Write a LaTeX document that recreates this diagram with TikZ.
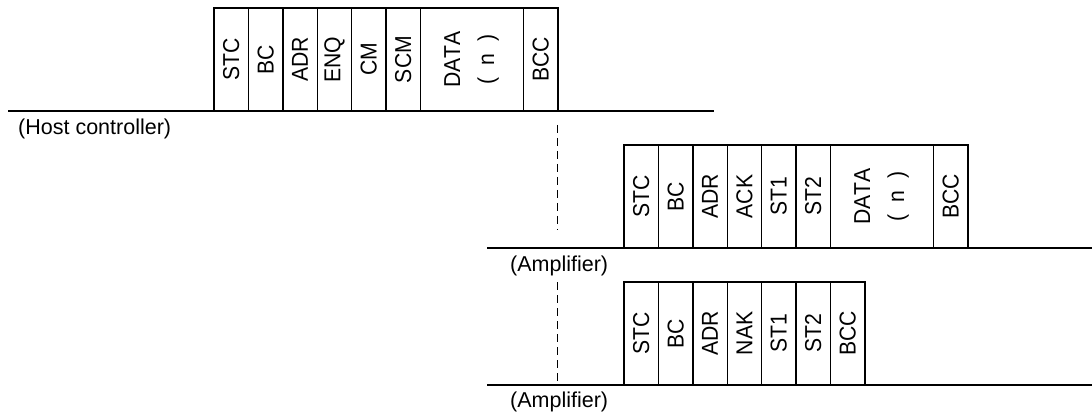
\documentclass[tikz,border=0pt]{standalone}
\usepackage{fontspec}
\setmainfont{Liberation Sans}
\newfontfamily\cellfamily[FakeStretch=0.92,Kerning=Off]{Liberation Sans}
\usetikzlibrary{positioning}
\newcommand{\labfont}{\fontsize{21.5pt}{25pt}\selectfont}
\newcommand{\cellfont}{\cellfamily\fontsize{23pt}{26pt}\selectfont}
\newcommand{\vtext}[1]{\rotatebox{90}{#1}}
\newcommand{\vdata}{\rotatebox{90}{\begin{tabular}{@{}c@{}}DATA\\[8pt](\ \ n\ \ )\end{tabular}}}
\tikzset{
  cell/.style={draw, line width=1.4pt, minimum width=34.4pt, minimum height=103pt,
               inner sep=0pt, outer sep=0pt, anchor=south west, font=\cellfont},
  datacell/.style={cell, minimum width=103pt},
  nextcell/.style={right=0pt of #1},
  busline/.style={line width=1.4pt},
  gapline/.style={line width=1.3pt, dash pattern=on 8pt off 5pt},
  caption/.style={anchor=west, inner sep=0pt, font=\labfont}
}
\begin{document}
\begin{tikzpicture}[x=1pt, y=-1pt]
\useasboundingbox (0,0) rectangle (1092,414);
% bus lines
\coordinate (h0) at (8,111);   \coordinate (h1) at (714,111);
\coordinate (a0) at (487,248); \coordinate (a1) at (1092,248);
\coordinate (b0) at (487,385); \coordinate (b1) at (1092,385);
\draw[busline] (h0) -- (h1);
\draw[busline] (a0) -- (a1);
\draw[busline] (b0) -- (b1);
% row 1: host controller command
\node[cell] (r1a) at (214,111) {\vtext{STC}};
\node[cell, nextcell=r1a] (r1b) {\vtext{BC}};
\node[cell, nextcell=r1b] (r1c) {\vtext{ADR}};
\node[cell, nextcell=r1c] (r1d) {\vtext{ENQ}};
\node[cell, nextcell=r1d] (r1e) {\vtext{CM}};
\node[cell, nextcell=r1e] (r1f) {\vtext{SCM}};
\node[datacell, nextcell=r1f] (r1g) {\vdata};
\node[cell, nextcell=r1g] (r1h) {\vtext{BCC}};
% row 2: amplifier ACK response
\node[cell] (r2a) at (624,248) {\vtext{STC}};
\node[cell, nextcell=r2a] (r2b) {\vtext{BC}};
\node[cell, nextcell=r2b] (r2c) {\vtext{ADR}};
\node[cell, nextcell=r2c] (r2d) {\vtext{ACK}};
\node[cell, nextcell=r2d] (r2e) {\vtext{ST1}};
\node[cell, nextcell=r2e] (r2f) {\vtext{ST2}};
\node[datacell, nextcell=r2f] (r2g) {\vdata};
\node[cell, nextcell=r2g] (r2h) {\vtext{BCC}};
% row 3: amplifier NAK response
\node[cell] (r3a) at (624,385) {\vtext{STC}};
\node[cell, nextcell=r3a] (r3b) {\vtext{BC}};
\node[cell, nextcell=r3b] (r3c) {\vtext{ADR}};
\node[cell, nextcell=r3c] (r3d) {\vtext{NAK}};
\node[cell, nextcell=r3d] (r3e) {\vtext{ST1}};
\node[cell, nextcell=r3e] (r3f) {\vtext{ST2}};
\node[cell, nextcell=r3f] (r3g) {\vtext{BCC}};
% captions
\node[caption] (lh) at (18,129) {(Host controller)};
\node[caption] (la1) at (510,266) {(Amplifier)};
\node[caption] (la2) at (510,402) {(Amplifier)};
% dashed timing lines
\coordinate (d1) at (r1h.south east |- 0,125);
\coordinate (d2) at (r1h.south east |- 0,230);
\coordinate (d3) at (r1h.south east |- 0,282);
\coordinate (d4) at (r1h.south east |- 0,385);
\draw[gapline] (d1) -- (d2);
\draw[gapline] (d3) -- (d4);
\end{tikzpicture}
\end{document}
